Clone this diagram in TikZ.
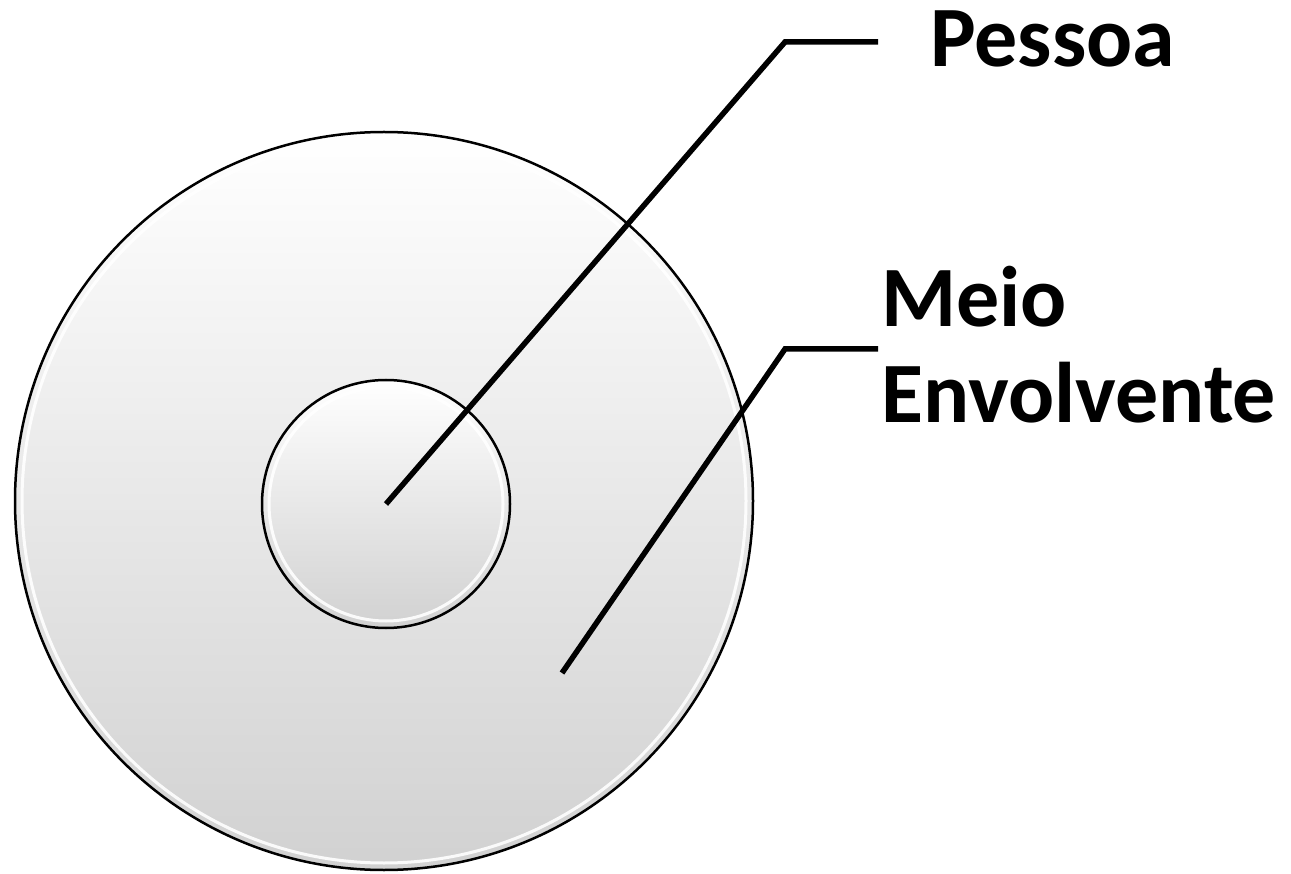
\documentclass[tikz,border=0pt]{standalone}
\usepackage{fontspec}
\setmainfont{Carlito}
\begin{document}
\begin{tikzpicture}[x=1pt,y=-1pt,
  disc/.style={circle,draw=black,line width=2.5pt,inner sep=0pt,
    top color=white,bottom color=black!18,shading angle=0},
  bevel/.style={draw=white,line width=3pt,opacity=0.9},
  leader/.style={line width=5.5pt,line join=miter},
  lbl/.style={font=\fontsize{86}{96}\bfseries\selectfont,inner sep=0pt,anchor=base west}]
\useasboundingbox (0,0) rectangle (1291,874);
\node[disc,minimum size=738pt] (env) at (384,501) {};
\draw[bevel] (384,501) circle[radius=362];
\node[disc,minimum size=248pt] (pessoa) at (386,504) {};
\draw[bevel] (386,504) circle[radius=117];
\coordinate (pk) at (785,42);
\coordinate (pe) at (878,42);
\coordinate (ms) at (562,673);
\coordinate (mk) at (785,349);
\coordinate (me) at (878,349);
\draw[leader] (pessoa.center) -- (pk) -- (pe);
\draw[leader] (ms) -- (mk) -- (me);
\node[lbl] (tp) at (930,67) {Pessoa};
\node[lbl] (tm) at (881,327) {Meio};
\node[lbl] (te) at (881,423) {Envolvente};
\end{tikzpicture}
\end{document}
